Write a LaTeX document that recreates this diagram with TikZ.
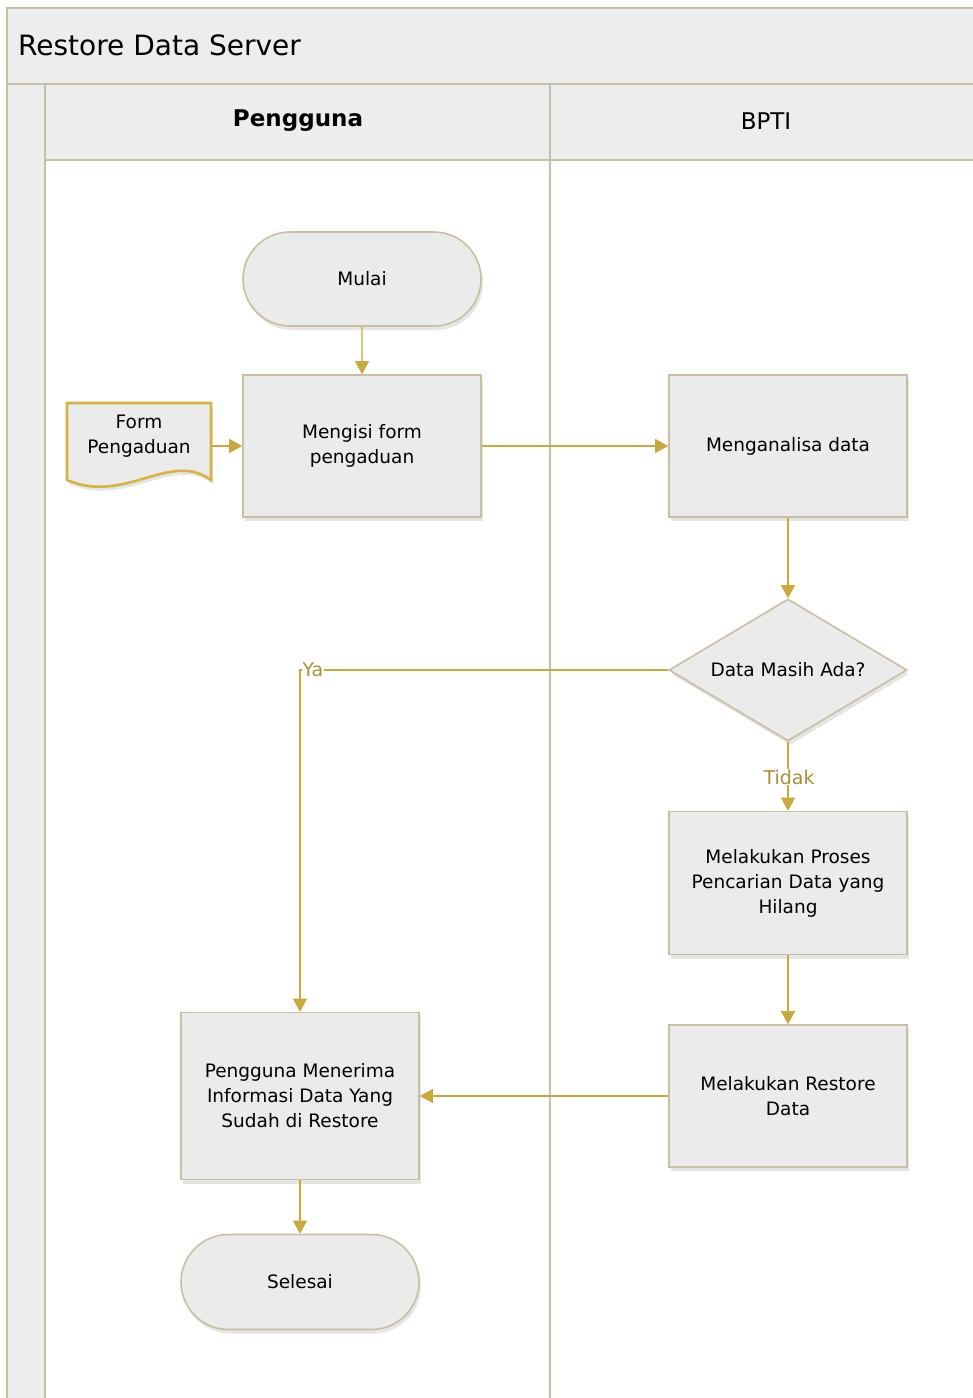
\documentclass[tikz,border=0pt]{standalone}
\usepackage{fontspec}
\setmainfont{DejaVu Sans}
\usetikzlibrary{arrows.meta,shadows,shapes.misc,shapes.geometric}
\definecolor{boxfill}{HTML}{EBEBEB}
\definecolor{boxline}{HTML}{C8BFA3}
\definecolor{gold}{HTML}{C9A83C}
\definecolor{goldtext}{HTML}{A8903A}
\definecolor{docline}{HTML}{D6B444}
\definecolor{poolfill}{HTML}{EDEDED}
\tikzset{
  x=1pt,y=-1pt,
  base/.style={fill=boxfill,draw=boxline,line width=1.6pt,align=center,
    font=\fontsize{18.5}{25}\selectfont,
    drop shadow={opacity=0.2,shadow xshift=2pt,shadow yshift=-4pt}},
  procbox/.style={base,rectangle,minimum width=238pt,minimum height=142pt,inner sep=0pt},
  termbox/.style={base,rounded rectangle,minimum width=238pt,minimum height=94pt,inner sep=0pt},
  conn/.style={draw=gold,line width=1.1pt,-{Triangle[length=13pt,width=14pt]}},
  lbl/.style={fill=white,text=goldtext,inner sep=1pt,font=\fontsize{19}{21}\selectfont},
}
\begin{document}
\begin{tikzpicture}
\useasboundingbox (0,0) rectangle (973,1398);
% pool
\fill[white] (7,8) rectangle (980,1405);
\fill[poolfill] (7,8) rectangle (980,84);
\fill[poolfill] (7,84) rectangle (45,1405);
\fill[poolfill] (45,84) rectangle (980,160);
\draw[boxline,line width=1.5pt] (7,1405) -- (7,8) -- (980,8);
\draw[boxline,line width=1.5pt] (7,84) -- (980,84);
\draw[boxline,line width=1.5pt] (45,84) -- (45,1405);
\draw[boxline,line width=1.5pt] (45,160) -- (980,160);
\draw[boxline,line width=1.5pt] (550,84) -- (550,1405);
\node[anchor=west,font=\fontsize{28}{32}\selectfont,inner sep=0pt] (title) at (18,45) {Restore Data Server};
\node[font=\bfseries\fontsize{23}{26}\selectfont] (lane1) at (298,121) {Pengguna};
\node[font=\fontsize{23}{26}\selectfont] (lane2) at (766,121) {BPTI};

% nodes
\node[termbox] (mulai) at (362,279) {Mulai};
\node[procbox] (isi) at (362,446) {Mengisi form\\pengaduan};
\node[procbox] (analisa) at (788,446) {Menganalisa data};
\node[base,diamond,aspect=1.68,minimum width=238pt,minimum height=142pt,inner sep=0pt] (cek) at (788,670) {Data Masih Ada?};
\node[procbox,minimum height=143pt] (cari) at (788,883) {Melakukan Proses\\Pencarian Data yang\\Hilang};
\node[procbox] (restore) at (788,1096) {Melakukan Restore\\Data};
\node[procbox,minimum height=167pt] (terima) at (300,1096) {Pengguna Menerima\\Informasi Data Yang\\Sudah di Restore};
\node[termbox,minimum height=95pt] (selesai) at (300,1282) {Selesai};

% document shape
\path[fill=boxfill,draw=docline,line width=2.6pt,
  drop shadow={opacity=0.2,shadow xshift=2pt,shadow yshift=-4pt}]
  (67,403) -- (211,403) -- (211,480)
  .. controls (170,450) and (125,505) .. (67,480) -- cycle;
\node[font=\fontsize{18.5}{25}\selectfont,align=center] (form) at (139,436) {Form\\Pengaduan};
\coordinate (formE) at (211,446);

% connectors
\draw[conn] (mulai) -- (isi);
\draw[conn] (formE) -- (isi.west);
\draw[conn] (isi) -- (analisa);
\draw[conn] (analisa) -- (cek);
\draw[conn] (cek.south) -- (cari.north);
\node[lbl] (tidak) at (789,777) {Tidak};
\draw[conn] (cek.west) -- (300,670) -- (terima.north);
\node[lbl,anchor=west,inner sep=0.5pt] (ya) at (302,670) {Ya};
\draw[conn] (cari) -- (restore);
\draw[conn] (restore) -- (terima);
\draw[conn] (terima) -- (selesai);
\end{tikzpicture}
\end{document}
